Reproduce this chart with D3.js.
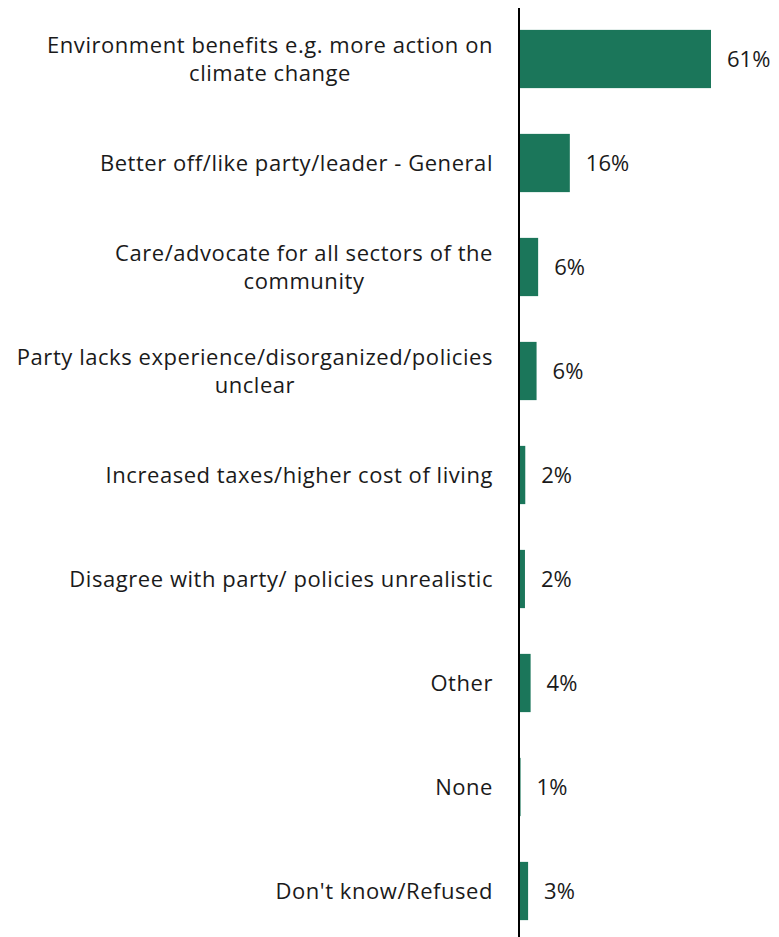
<!DOCTYPE html>
<html>
<head>
<meta charset="utf-8">
<script src="https://cdn.jsdelivr.net/npm/d3@7"></script>
<style>
  body { margin: 0; background: #fff; }
  svg text { font-family: "Open Sans", sans-serif; fill: #1a1a1a; }
</style>
</head>
<body>
<div id="chart"></div>
<script>
// categories, each one a list of wrapped lines
const categories = [
    ['Environment benefits e.g. more action on', 'climate change'],
    ['Better off/like party/leader - General'],
    ['Care/advocate for all sectors of the', 'community'],
    ['Party lacks experience/disorganized/policies', 'unclear'],
    ['Increased taxes/higher cost of living'],
    ['Disagree with party/ policies unrealistic'],
    ['Other'],
    ['None'],
    ["Don't know/Refused"]
];
// bar lengths and the printed labels
const values = [61.2, 16.2, 6.1, 5.6, 2.0, 1.9, 3.7, 0.5, 2.9];
const valueLabels = ['61%', '16%', '6%', '6%', '2%', '2%', '4%', '1%', '3%'];

const width = 779,
    height = 937;
const axisX = 519;
const fontSize = 22;

const svg = d3
    .select('#chart')
    .append('svg')
    .attr('width', width)
    .attr('height', height);

const x = d3.scaleLinear().domain([0, 61.2]).range([axisX, axisX + 192]);
const y = d3
    .scaleBand()
    .domain(d3.range(categories.length))
    .range([7, 943])
    .paddingInner(0.44)
    .paddingOuter(0.22);

// bars
svg.selectAll('.bar')
    .data(values)
    .enter()
    .append('rect')
    .attr('class', 'bar')
    .attr('x', x(0))
    .attr('y', (d, i) => y(i))
    .attr('width', (d) => x(d) - x(0))
    .attr('height', y.bandwidth())
    .attr('fill', '#1b765a');

// value labels
svg.selectAll('.val')
    .data(values)
    .enter()
    .append('text')
    .attr('class', 'val')
    .attr('x', (d) => x(d) + 16)
    .attr('y', (d, i) => y(i) + y.bandwidth() / 2)
    .attr('dy', '0.35em')
    .style('font-size', fontSize + 'px')
    .text((d, i) => valueLabels[i]);

// category labels: block right aligned, lines centred within it
const lineHeight = 28;
const labelRight = 493;
categories.forEach((lines, i) => {
    const g = svg.append('g');
    const cy = y(i) + y.bandwidth() / 2;
    const texts = lines.map((line, j) =>
        g.append('text')
            .attr('y', cy + (j - (lines.length - 1) / 2) * lineHeight)
            .attr('dy', '0.35em')
            .style('font-size', fontSize + 'px')
            .style('letter-spacing', '0.55px')
            .attr('text-anchor', 'middle')
            .text(line)
    );
    const maxW = d3.max(texts, (t) => t.node().getBBox().width);
    texts.forEach((t) => t.attr('x', labelRight - maxW / 2));
});

// vertical axis line
svg.append('line')
    .attr('x1', axisX)
    .attr('x2', axisX)
    .attr('y1', 8)
    .attr('y2', height)
    .attr('stroke', '#000')
    .attr('stroke-width', 2);
</script>
</body>
</html>
